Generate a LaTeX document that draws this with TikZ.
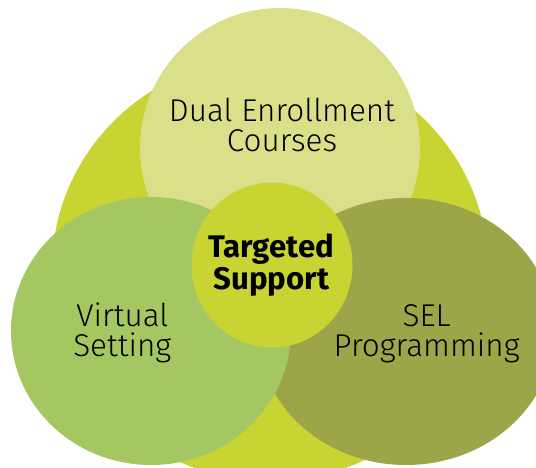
\documentclass[tikz,border=0pt]{standalone}
\usepackage{fontspec}
\setmainfont{Fira Sans}[UprightFont=* Light, BoldFont=* Bold]
\usepackage{tikz}
\usetikzlibrary{shapes}

\definecolor{venn_yellow}{HTML}{C8D432}
\definecolor{venn_pale}{HTML}{DAE08A}
\definecolor{venn_green}{HTML}{A5C762}
\definecolor{venn_olive}{HTML}{9CA547}

\begin{document}
\begin{tikzpicture}[
        ellipse_style/.style={ellipse,draw=none,inner sep=0pt},
        label_style/.style={anchor=base,align=center,text=black,font=\fontsize{22.4}{21.3}\selectfont},
        center_label_style/.style={anchor=base,align=center,text=black,font=\bfseries\fontsize{22.2}{22.8}\selectfont}]

        \clip (0,0) rectangle (13.4,11.7);

        \node [ellipse_style,fill=venn_yellow,minimum width=10.9cm,minimum height=10.6cm](n0) at (6.75,4.975) {};

        \node [ellipse_style,fill=venn_pale,minimum width=7cm,minimum height=7cm](n1) at (7.0,8.0) {};

        \node [ellipse_style,fill=venn_olive,minimum width=7.4cm,minimum height=6.675cm](n2) at (10.15,3.4125) {};

        \node [ellipse_style,fill=venn_green,minimum width=7cm,minimum height=6.7cm](n3) at (3.775,3.425) {};

        \node [ellipse_style,fill=venn_yellow,minimum width=4.025cm,minimum height=4.125cm](n4) at (6.8,5.075) {};

        % texts (base = last line)
        \node [label_style](l1) at (7.05,7.9075) {Dual Enrollment\\Courses};

        \node [center_label_style](l2) at (6.78,4.4675) {Targeted\\Support};

        \node [label_style](l3) at (3.0575,2.7825) {Virtual\\Setting};

        \node [label_style](l4) at (10.6675,2.7875) {SEL\\Programming};

        \end{tikzpicture}
\end{document}
